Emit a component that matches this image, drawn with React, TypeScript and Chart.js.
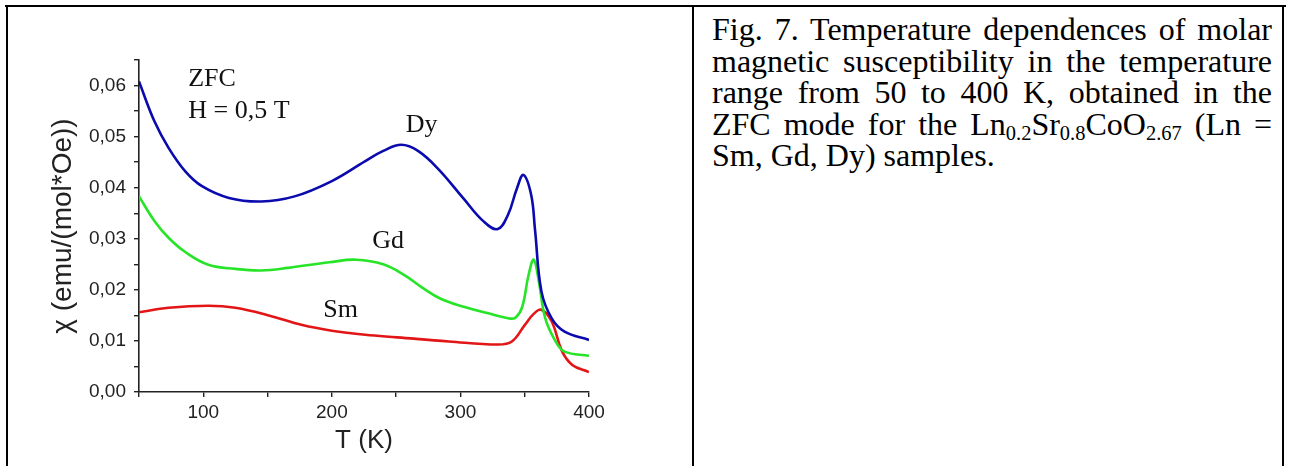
import React, { useEffect, useRef } from 'react';
import { Chart, registerables } from 'chart.js';

Chart.register(...registerables);

// ---- data ----
const dyT = [50, 62, 73, 86, 99, 120, 145, 171, 200, 226, 240, 254, 267, 283, 302, 318, 329, 337, 344, 349, 355, 358, 363, 371, 381, 400];
const dyChi = [0.0608, 0.053, 0.0478, 0.0432, 0.0403, 0.038, 0.0373, 0.0383, 0.0413, 0.0452, 0.0472, 0.0484, 0.0472, 0.0436, 0.038, 0.0334, 0.0319, 0.0347, 0.0399, 0.0425, 0.0386, 0.0318, 0.0197, 0.0144, 0.0118, 0.0102];

const gdT = [50, 62, 73, 86, 104, 125, 145, 166, 198, 219, 240, 257, 270, 285, 304, 320, 338, 343, 348, 353, 357, 361, 366, 374, 381, 400];
const gdChi = [0.0383, 0.0335, 0.0302, 0.0274, 0.0249, 0.0241, 0.0238, 0.0243, 0.0254, 0.0259, 0.025, 0.0228, 0.0205, 0.0182, 0.0166, 0.0155, 0.0144, 0.0146, 0.0166, 0.0229, 0.0259, 0.0216, 0.0144, 0.0099, 0.0079, 0.0071];

const smT = [50, 73, 104, 125, 151, 177, 200, 226, 251, 291, 329, 340, 350, 357, 363, 371, 379, 387, 400];
const smChi = [0.0156, 0.0165, 0.0169, 0.0165, 0.015, 0.0131, 0.012, 0.0112, 0.0107, 0.0099, 0.0093, 0.0099, 0.0131, 0.0153, 0.0161, 0.0138, 0.008, 0.0053, 0.0039];

const seriesNames = ['Dy', 'Gd', 'Sm'];
const xTickLabels = ['100', '200', '300', '400'];
const yTickLabels = ['0,00', '0,01', '0,02', '0,03', '0,04', '0,05', '0,06'];

const annotationTexts = ['ZFC', 'H = 0,5 T', 'Dy', 'Gd', 'Sm'];
const annotationT = [88.3, 88.3, 257.4, 231.4, 193.3];
const annotationChi = [0.0599, 0.0537, 0.0509, 0.0282, 0.01476];

const captionLines = [
  'Fig. 7. Temperature dependences of molar',
  'magnetic susceptibility in the temperature',
  'range from 50 to 400 K, obtained in the',
];

const SANS = '"Liberation Sans", Arial, sans-serif';
const SERIF = '"Liberation Serif", "Times New Roman", serif';

const PAD_LEFT = 44;
const CHART_LEFT = 139;
const CHART_BOTTOM = 392;
const CANVAS_H = 466;
const CANVAS_W = 692;

const annotationPlugin = {
  id: 'curveLabels',
  afterDatasetsDraw(chart: any) {
    const { ctx, scales } = chart;
    ctx.save();
    ctx.font = `26px ${SERIF}`;
    ctx.fillStyle = '#111';
    ctx.textBaseline = 'alphabetic';
    ctx.textAlign = 'left';
    annotationTexts.forEach((txt, i) => {
      const x = scales.x.getPixelForValue(annotationT[i]);
      const y = scales.y.getPixelForValue(annotationChi[i]);
      ctx.fillText(txt, x, y);
    });
    ctx.restore();
  },
};

function toPoints(t: number[], v: number[]) {
  return t.map((x, i) => ({ x, y: v[i] }));
}

function ChartBox() {
  const ref = useRef<HTMLCanvasElement | null>(null);
  useEffect(() => {
    if (!ref.current) return;
    const colors = ['#0a0aae', '#28e428', '#e21616'];
    const pts = [toPoints(dyT, dyChi), toPoints(gdT, gdChi), toPoints(smT, smChi)];
    const chart = new Chart(ref.current, {
      type: 'line',
      data: {
        datasets: pts.map((p, i) => ({
          label: seriesNames[i],
          data: p,
          borderColor: colors[i],
          backgroundColor: colors[i],
          borderWidth: 2.6,
          pointRadius: 0,
          fill: false,
          tension: 0.4,
        })),
      },
      options: {
        animation: false,
        responsive: true,
        maintainAspectRatio: false,
        layout: { padding: { left: PAD_LEFT, right: CANVAS_W - 589, top: 60, bottom: 0 } },
        plugins: { legend: { display: false }, tooltip: { enabled: false } },
        scales: {
          x: {
            type: 'linear',
            min: 50,
            max: 400,
            afterFit: (s: any) => { s.height = CANVAS_H - CHART_BOTTOM; },
            ticks: {
              stepSize: 50,
              autoSkip: false,
              maxRotation: 0,
              padding: 4,
              color: '#222',
              font: { family: SANS, size: 19 },
              callback: (v: any) => {
                const idx = xTickLabels.indexOf(String(v));
                return idx >= 0 ? xTickLabels[idx] : '';
              },
            },
            grid: { display: true, drawOnChartArea: false, drawTicks: true, tickLength: 5, color: '#222', lineWidth: 1.4 },
            border: { display: true, color: '#222', width: 1.6 },
            title: { display: true, text: 'T (K)', color: '#222', font: { family: SANS, size: 26 }, padding: { top: 4, bottom: 10 } },
          },
          y: {
            type: 'linear',
            min: 0,
            max: 0.065,
            afterFit: (s: any) => { s.width = CHART_LEFT - PAD_LEFT; },
            ticks: {
              stepSize: 0.005,
              autoSkip: false,
              padding: 8,
              color: '#222',
              font: { family: SANS, size: 19 },
              callback: (v: any) => {
                const k = Math.round(v * 100);
                if (Math.abs(v * 100 - k) > 1e-6) return '';
                return yTickLabels[k] ?? '';
              },
            },
            grid: { display: true, drawOnChartArea: false, drawTicks: true, tickLength: 5, color: '#222', lineWidth: 1.4 },
            border: { display: true, color: '#222', width: 1.6 },
            title: { display: true, text: 'χ (emu/(mol*Oe))', color: '#222', font: { family: SANS, size: 28 }, padding: { top: 2, bottom: 4 } },
          },
        },
      },
      plugins: [annotationPlugin],
    } as any);
    return () => chart.destroy();
  }, []);
  return (
    <div style={{ position: 'absolute', left: 0, top: 0, width: CANVAS_W, height: CANVAS_H }}>
      <canvas ref={ref} />
    </div>
  );
}

const subStyle: React.CSSProperties = { fontSize: '0.64em', verticalAlign: '-0.22em', lineHeight: 0 };
const lineStyle: React.CSSProperties = { textAlign: 'justify', textAlignLast: 'justify' as any, height: 31.5 };

export default function App() {
  return (
    <div style={{ position: 'absolute', left: 0, top: 0, width: 1291, height: 466, overflow: 'hidden', background: '#fff' }}>
      <ChartBox />
      {/* table borders */}
      <div style={{ position: 'absolute', left: 5, top: 5, width: 1281, height: 2, background: '#000' }} />
      <div style={{ position: 'absolute', left: 6, top: 5, width: 2, height: 461, background: '#000' }} />
      <div style={{ position: 'absolute', left: 692, top: 5, width: 2, height: 461, background: '#000' }} />
      <div style={{ position: 'absolute', left: 1282, top: 5, width: 2, height: 461, background: '#000' }} />
      <div style={{ position: 'absolute', left: 712, top: 14, width: 560, fontFamily: SERIF, fontSize: 32, lineHeight: '31.5px', color: '#000' }}>
        {captionLines.map((l, i) => (
          <div key={i} style={lineStyle}>{l}</div>
        ))}
        <div style={lineStyle}>
          ZFC mode for the Ln<sub style={subStyle}>0.2</sub>Sr<sub style={subStyle}>0.8</sub>CoO<sub style={subStyle}>2.67</sub> (Ln =
        </div>
        <div style={{ height: 31.5 }}>Sm, Gd, Dy) samples.</div>
      </div>
    </div>
  );
}
